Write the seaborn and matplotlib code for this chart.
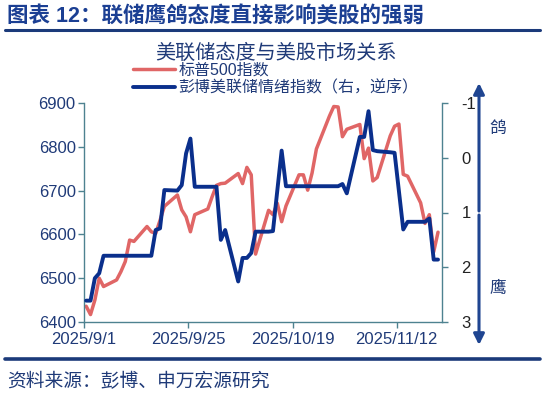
import matplotlib
matplotlib.use('Agg')
import matplotlib.pyplot as plt
import seaborn as sns
import pandas as pd
from matplotlib.lines import Line2D

# ---------------- data ----------------
dates = [
    '2025-09-01', '2025-09-02', '2025-09-03', '2025-09-04', '2025-09-05',
    '2025-09-08', '2025-09-09', '2025-09-10', '2025-09-11', '2025-09-12',
    '2025-09-15', '2025-09-16', '2025-09-17', '2025-09-18', '2025-09-19',
    '2025-09-22', '2025-09-23', '2025-09-24', '2025-09-25', '2025-09-26',
    '2025-09-29', '2025-09-30',
    '2025-10-01', '2025-10-02', '2025-10-03', '2025-10-06', '2025-10-07',
    '2025-10-08', '2025-10-09', '2025-10-10', '2025-10-13', '2025-10-14',
    '2025-10-15', '2025-10-16', '2025-10-17', '2025-10-20', '2025-10-21',
    '2025-10-22', '2025-10-23', '2025-10-24', '2025-10-27', '2025-10-28',
    '2025-10-29', '2025-10-30', '2025-10-31',
    '2025-11-03', '2025-11-04', '2025-11-05', '2025-11-06', '2025-11-07',
    '2025-11-10', '2025-11-11', '2025-11-12', '2025-11-13', '2025-11-14',
    '2025-11-17', '2025-11-18', '2025-11-19', '2025-11-20', '2025-11-21',
]
spx = [
    6436, 6417, 6450, 6500, 6481, 6496, 6515, 6538, 6587, 6584, 6618, 6606,
    6602, 6632, 6664, 6690, 6656, 6640, 6606, 6645, 6658, 6686,
    6712, 6716, 6717, 6739, 6716, 6753, 6736, 6555, 6655, 6645, 6671, 6629,
    6665, 6736, 6736, 6701, 6740, 6795, 6870, 6892, 6891, 6823, 6840,
    6851, 6773, 6797, 6722, 6730, 6825, 6847, 6852, 6737, 6733, 6672, 6625,
    6645, 6560, 6605,
]
fed_sentiment = [
    2.61, 2.61, 2.20, 2.11, 1.79, 1.79, 1.79, 1.79, 1.79, 1.79, 1.79, 1.79,
    1.32, 1.29, 0.59, 0.60, 0.50, -0.08, -0.35, 0.53, 0.53, 0.53,
    0.53, 1.50, 1.32, 2.26, 1.83, 1.83, 1.74, 1.35, 1.35, 1.34, 0.60, -0.13,
    0.52, 0.52, 0.52, 0.52, 0.52, 0.52, 0.52, 0.52, 0.52, 0.48, 0.65,
    -0.38, -0.38, -0.85, -0.14, -0.12, -0.10, -0.09, 0.61, 1.31, 1.17, 1.17,
    1.17, 1.11, 1.86, 1.86,
]
tick_dates = ['2025-09-01', '2025-09-25', '2025-10-19', '2025-11-12']
tick_labels = ['2025/9/1', '2025/9/25', '2025/10/19', '2025/11/12']
left_ticks = [6400, 6500, 6600, 6700, 6800, 6900]
right_ticks = [-1, 0, 1, 2, 3]

heading = '图表 12：联储鹰鸽态度直接影响美股的强弱'
chart_title = '美联储态度与美股市场关系'
label_spx = '标普500指数'
label_fed = '彭博美联储情绪指数（右，逆序）'
source = '资料来源：彭博、申万宏源研究'

# ---------------- style ----------------
sns.set_theme(style='white')
plt.rcParams['font.family'] = ['Liberation Sans', 'Noto Sans CJK SC', 'DejaVu Sans']
plt.rcParams['axes.unicode_minus'] = False

RED = '#E06666'
BLUE = '#0A2F8C'
NAVY = '#1F3A78'
HEAD = '#1B3F93'
SPINE = '#4E8290'

df = pd.DataFrame({'date': pd.to_datetime(dates), 'spx': spx, 'fed': fed_sentiment})
# Excel date axis: points sit in the middle of their day
df['x'] = df['date'] + pd.Timedelta(hours=12)

fig = plt.figure(figsize=(5.45, 3.95), dpi=100)
ax = fig.add_axes([84 / 545, 1 - 322 / 395, (442 - 84) / 545, (322 - 103) / 395])
ax2 = ax.twinx()

sns.lineplot(data=df, x='x', y='spx', ax=ax, color=RED, lw=2.5, legend=False)
sns.lineplot(data=df, x='x', y='fed', ax=ax2, color=BLUE, lw=2.8, legend=False)

ax.set_xlim(pd.Timestamp('2025-09-01'), pd.Timestamp('2025-11-22 10:00'))
ax.set_ylim(6400, 6900)
ax2.set_ylim(3, -1)

ax.set_xticks(pd.to_datetime(tick_dates))
ax.set_xticklabels(tick_labels)
ax.set_yticks(left_ticks)
ax.set_yticklabels([str(v) for v in left_ticks])
ax2.set_yticks(right_ticks)
ax2.set_yticklabels([str(v) for v in right_ticks])

for a in (ax, ax2):
    a.set_xlabel('')
    a.set_ylabel('')
    a.grid(False)
    a.set_facecolor('none')
    for s in a.spines.values():
        s.set_color(SPINE)
        s.set_linewidth(1.0)
    a.spines['top'].set_visible(False)
ax.spines['right'].set_visible(False)
ax2.spines['left'].set_visible(False)
ax2.spines['bottom'].set_visible(False)

ax.tick_params(axis='both', which='both', direction='out', length=4, width=1,
               color=SPINE, labelsize=12, labelcolor=NAVY, pad=2)
ax.tick_params(axis='x', pad=3)
ax.tick_params(axis='y', left=True, right=False)
ax.tick_params(axis='x', bottom=True)
ax2.tick_params(axis='y', direction='out', length=4, width=1, color=SPINE,
                labelsize=12, labelcolor='#222222', pad=10, right=True)

# ---------------- texts & decorations ----------------
fig.text(7 / 545, 1 - 16 / 395, heading, fontsize=15.5, fontweight='bold',
         color=HEAD, ha='left', va='center')
fig.add_artist(Line2D([5 / 545, 540 / 545], [1 - 30 / 395] * 2, color='#1B3A7A', lw=2.2))
fig.add_artist(Line2D([5 / 545, 540 / 545], [1 - 359 / 395] * 2, color='#1B3A7A', lw=2.6))
fig.text(276 / 545, 1 - 53 / 395, chart_title, fontsize=14.5, color=NAVY,
         ha='center', va='center')
fig.text(7 / 545, 1 - 382 / 395, source, fontsize=13.5, color=NAVY, ha='left', va='center')

handles = [Line2D([], [], color=RED, lw=2.5), Line2D([], [], color=BLUE, lw=2.8)]
fig.legend(handles, [label_spx, label_fed], loc='upper left',
           bbox_to_anchor=(133 / 545, 1 - 63 / 395), frameon=False, fontsize=11.5,
           handlelength=2.6, handletextpad=0.25, labelspacing=0.15, borderpad=0,
           borderaxespad=0, labelcolor=NAVY)

arrow_kw = dict(arrowstyle='-|>', color='#1F4591', lw=2.2, mutation_scale=16,
                shrinkA=0, shrinkB=0)
fig.add_artist(matplotlib.patches.FancyArrowPatch((479 / 545, 1 - 211 / 395), (479 / 545, 1 - 83 / 395),
                                                  transform=fig.transFigure, **arrow_kw))
fig.add_artist(matplotlib.patches.FancyArrowPatch((479 / 545, 1 - 215 / 395), (479 / 545, 1 - 345 / 395),
                                                  transform=fig.transFigure, **arrow_kw))
fig.text(498 / 545, 1 - 128 / 395, '鸽', fontsize=12, color=NAVY, ha='center', va='center')
fig.text(498 / 545, 1 - 288 / 395, '鹰', fontsize=12, color=NAVY, ha='center', va='center')

fig.savefig('out.png', dpi=100)
